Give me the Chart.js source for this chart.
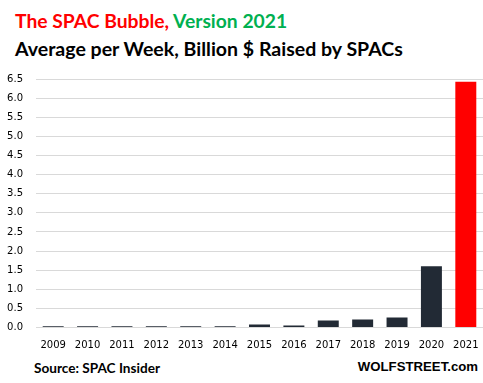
<!DOCTYPE html>
<html>
<head>
<meta charset="utf-8">
<script src="https://cdn.jsdelivr.net/npm/chart.js@4/dist/chart.umd.min.js"></script>
<style>
  html, body { margin: 0; padding: 0; background: #fff; }
  body { width: 483px; height: 383px; position: relative; overflow: hidden; }
  .t1 { position: absolute; left: 15px; top: 11px; font-family: Lato, "Open Sans", sans-serif; font-weight: 700; font-size: 19.3px; line-height: 20px; white-space: nowrap; }
  .t2 { position: absolute; left: 15px; top: 39px; font-family: Lato, "Open Sans", sans-serif; font-weight: 700; font-size: 19.55px; line-height: 20px; white-space: nowrap; color: #000; }
  .src { position: absolute; left: 34px; top: 360px; font-family: Lato, sans-serif; font-weight: 700; font-size: 13.6px; line-height: 16px; color: #000; white-space: nowrap; }
  .wolf { position: absolute; right: 5px; top: 359px; font-family: "Liberation Sans", Arial, sans-serif; font-weight: 700; font-size: 13.2px; line-height: 16px; color: #000; white-space: nowrap; }
  #wrap { position: absolute; left: 0; top: 65px; width: 483px; height: 293px; }
</style>
</head>
<body>
<div class="t1"><span style="color:#ff0000">The SPAC Bubble,</span> <span style="color:#00b050">Version 2021</span></div>
<div class="t2">Average per Week, Billion $ Raised by SPACs</div>
<div id="wrap"><canvas id="c" width="483" height="293"></canvas></div>
<div class="src">Source: SPAC Insider</div>
<div class="wolf">WOLFSTREET.com</div>
<script>
const years = ["2009","2010","2011","2012","2013","2014","2015","2016","2017","2018","2019","2020","2021"];
const avgPerWeek = [0.035, 0.035, 0.035, 0.035, 0.035, 0.035, 0.08, 0.05, 0.18, 0.21, 0.26, 1.6, 6.43];
const barColors = ["#222a35","#222a35","#222a35","#222a35","#222a35","#222a35","#222a35","#222a35","#222a35","#222a35","#222a35","#222a35","#ff0000"];
const yMax = 6.5;
const yStep = 0.5;

new Chart(document.getElementById('c'), {
  type: 'bar',
  data: {
    labels: years,
    datasets: [{
      data: avgPerWeek,
      backgroundColor: barColors,
      borderWidth: 0,
      barPercentage: 0.61,
      categoryPercentage: 1.0
    }]
  },
  options: {
    responsive: false,
    animation: false,
    devicePixelRatio: 1,
    layout: { padding: { top: 14, right: 0, left: 0, bottom: 0 } },
    plugins: { legend: { display: false }, tooltip: { enabled: false }, title: { display: false } },
    scales: {
      x: {
        grid: { display: false, drawTicks: false },
        border: { display: true, color: '#d9d9d9', width: 1 },
        ticks: { color: '#000', font: { family: 'DejaVu Sans', size: 10 }, padding: 12, maxRotation: 0, autoSkip: false },
        afterFit: s => { s.height = 30.5; s.paddingLeft = 0; s.paddingRight = 0; }
      },
      y: {
        min: 0, max: yMax,
        grid: { color: '#d9d9d9', lineWidth: 1, drawTicks: false },
        border: { display: false },
        ticks: { stepSize: yStep, color: '#000', font: { family: 'DejaVu Sans', size: 10 }, padding: 13,
          callback: v => Number(v).toFixed(1) },
        afterFit: s => { s.width = 36; s.paddingTop = 0; s.paddingBottom = 0; }
      }
    }
  }
});
</script>
</body>
</html>
